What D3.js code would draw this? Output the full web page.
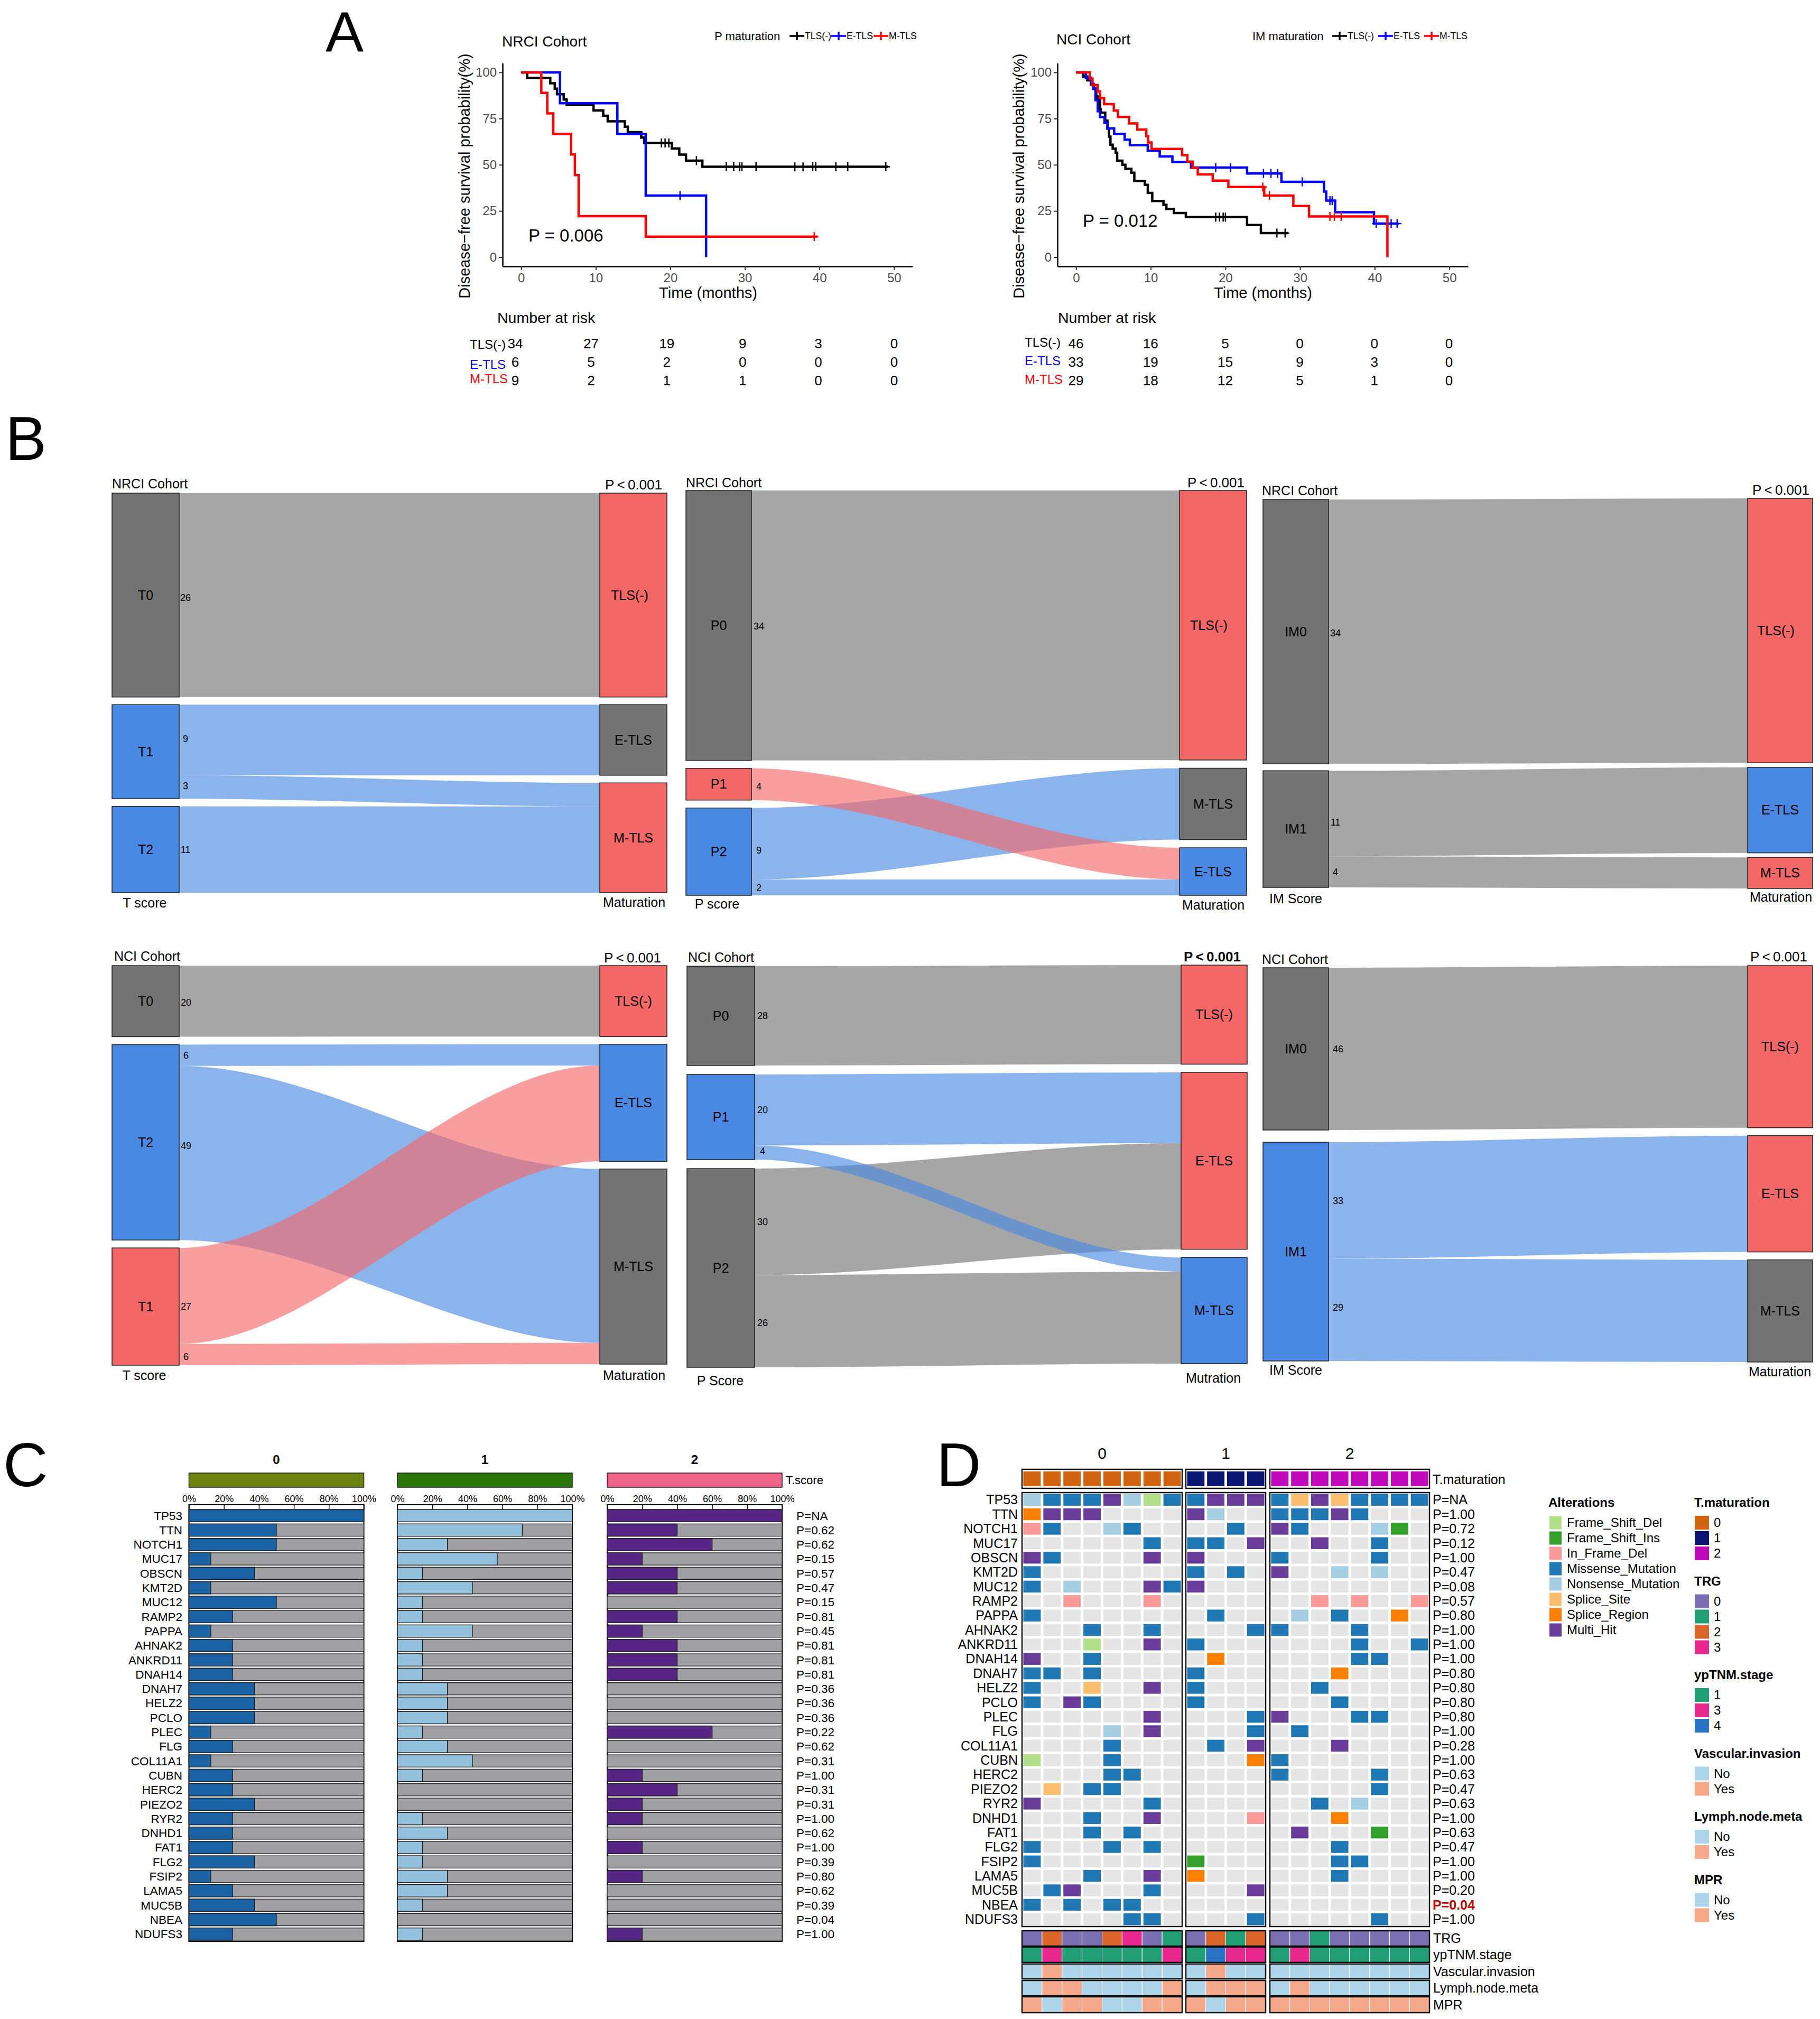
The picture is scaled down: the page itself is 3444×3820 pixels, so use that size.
<!DOCTYPE html>
<html>
<head>
<meta charset="utf-8">
<script src="https://cdn.jsdelivr.net/npm/d3@7"></script>
<style>
  body { margin: 0; background: #fff; }
  svg { display: block; }
</style>
</head>
<body>
<div id="chart"></div>
<script>
// ---------- panel A: survival curves, [months, survival %] ----------
const nrciNeg = [[0,100],[0.8,97],[3.9,94.1],[4.5,91.2],[4.8,88.2],[5.7,85.3],[6.1,82.4],[9.7,79.4],[11,76.5],[11.6,73.5],[13.9,70.6],[14.3,67.7],[16.1,64.7],[16.5,61.8],[20.2,58.8],[21.2,55.5],[22.1,52.2],[24.3,48.9],[49.2,48.9]];
const nrciE = [[0,100],[5.2,83.3],[12.9,66.7],[16.7,33.3],[24.8,0]];
const nrciM = [[0,100],[2.7,88.9],[3.5,77.8],[4.3,66.7],[6.7,55.6],[7.2,44.4],[7.7,22.2],[16.7,11.1],[39.7,11.1]];
const nrciNegCensor = [18.8,19.3,19.8,23.5,27.5,28.5,29.3,29.6,31.5,36.7,37.8,39.1,39.5,42.2,43.8,48.9];
const nrciECensor = [21.3];
const nrciMCensor = [39.3];

const nciNeg = [[0,100],[0.95,97.8],[1.5,95.7],[2,93.5],[2.4,91.3],[2.7,87],[2.9,85],[3.2,80],[3.3,78.2],[3.9,73.9],[4.2,69.6],[4.4,65.2],[4.6,60.9],[4.9,58.7],[5.3,56.5],[5.5,52.2],[6.2,50],[6.6,47.8],[7.4,45.7],[7.8,41.3],[9.2,39.1],[9.6,34.8],[10.2,30.4],[11.7,28.3],[12.1,26.1],[13.1,23.9],[14.7,21.7],[22.9,17.4],[24.75,13],[28.4,13]];
const nciE = [[0,100],[1.3,97],[2,94],[2.3,91],[2.6,85],[2.9,79],[3.2,75.8],[3.8,72.7],[4.2,69.7],[5.1,66.7],[6.5,63.6],[7.2,60.6],[9.6,57.6],[11.2,54.5],[12.9,51.5],[15.4,48.5],[22.9,45.3],[27.5,40.8],[33.2,35.5],[33.5,30.6],[34.7,24.3],[39.9,18.2],[43.2,18.2]];
const nciM = [[0,100],[1.85,96.6],[2.2,93.1],[2.9,89.7],[3.2,86.2],[3.75,82.8],[5.05,79.3],[5.6,75.9],[7.1,72.4],[8.2,69],[9.4,65.5],[9.65,62.1],[10.1,58.6],[14.2,55.2],[14.9,51.7],[15.6,48.3],[16.3,44.8],[18.3,41.4],[20.4,38],[25.2,33.3],[29.1,27.7],[31.2,22],[41.7,0]];
const nciNegCensor = [18.7,19.2,19.7,20,26.9,28];
const nciECensor = [18.7,20.7,25.1,26.1,27,30.3,34,34.3,40.2,42.2,43];
const nciMCensor = [25,25.9,34,34.6,35.5];

const timeTicks = [0,10,20,30,40,50];
const survTicks = [0,25,50,75,100];
const groupNames = ['TLS(-)','E-TLS','M-TLS'];
const nrciRisk = [[34,27,19,9,3,0],[6,5,2,0,0,0],[9,2,1,1,0,0]];
const nciRisk = [[46,16,5,0,0,0],[33,19,15,9,3,0],[29,18,12,5,1,0]];

// ---------- panel B: alluvial strata and flows ----------
const b1Left = ['T0','T1','T2'];
const b1Right = ['TLS(-)','E-TLS','M-TLS'];
const b1Flows = [['T0','TLS(-)',26],['T1','E-TLS',9],['T1','M-TLS',3],['T2','M-TLS',11]];
const b2Left = ['P0','P1','P2'];
const b2Right = ['TLS(-)','M-TLS','E-TLS'];
const b2Flows = [['P0','TLS(-)',34],['P1','E-TLS',4],['P2','M-TLS',9],['P2','E-TLS',2]];
const b3Left = ['IM0','IM1'];
const b3Right = ['TLS(-)','E-TLS','M-TLS'];
const b3Flows = [['IM0','TLS(-)',34],['IM1','E-TLS',11],['IM1','M-TLS',4]];
const b4Left = ['T0','T2','T1'];
const b4Right = ['TLS(-)','E-TLS','M-TLS'];
const b4Flows = [['T0','TLS(-)',20],['T2','E-TLS',6],['T2','M-TLS',49],['T1','E-TLS',27],['T1','M-TLS',6]];
const b5Left = ['P0','P1','P2'];
const b5Right = ['TLS(-)','E-TLS','M-TLS'];
const b5Flows = [['P0','TLS(-)',28],['P1','E-TLS',20],['P1','M-TLS',4],['P2','E-TLS',30],['P2','M-TLS',26]];
const b6Left = ['IM0','IM1'];
const b6Right = ['TLS(-)','E-TLS','M-TLS'];
const b6Flows = [['IM0','TLS(-)',46],['IM1','E-TLS',33],['IM1','M-TLS',29]];

// ---------- panel C: mutation frequency per group ----------
const genes = ['TP53','TTN','NOTCH1','MUC17','OBSCN','KMT2D','MUC12','RAMP2','PAPPA','AHNAK2','ANKRD11','DNAH14','DNAH7','HELZ2','PCLO','PLEC','FLG','COL11A1','CUBN','HERC2','PIEZO2','RYR2','DNHD1','FAT1','FLG2','FSIP2','LAMA5','MUC5B','NBEA','NDUFS3'];
const freq0 = [100,50,50,12.5,37.5,12.5,50,25,12.5,25,25,25,37.5,37.5,37.5,12.5,25,12.5,25,25,37.5,25,25,25,37.5,12.5,25,37.5,50,25];
const freq1 = [100,71.4,28.6,57.1,14.3,42.9,14.3,14.3,42.9,14.3,14.3,14.3,28.6,28.6,28.6,14.3,28.6,42.9,14.3,0,0,14.3,28.6,14.3,14.3,28.6,28.6,14.3,0,14.3];
const freq2 = [100,40,60,20,40,40,0,40,20,40,40,40,0,0,0,60,0,0,20,40,20,20,0,20,0,20,0,0,0,20];
const pFreq = ['P=NA','P=0.62','P=0.62','P=0.15','P=0.57','P=0.47','P=0.15','P=0.81','P=0.45','P=0.81','P=0.81','P=0.81','P=0.36','P=0.36','P=0.36','P=0.22','P=0.62','P=0.31','P=1.00','P=0.31','P=0.31','P=1.00','P=0.62','P=1.00','P=0.39','P=0.80','P=0.62','P=0.39','P=0.04','P=1.00'];
const pctTicks = [0,20,40,60,80,100];

// ---------- panel D: oncoprint, 8 + 4 + 8 samples per gene ----------
const onco = [
  'NMMMHNFMMHHHMSHSMMMM',
  'RHHH....HN..MMMHM...',
  'DM..NM....M.HM...NI.',
  '......M.MM.H..H..M..',
  'HM....H.H...M....M..',
  'M.......M.M.H..N.N..',
  'M.N...HMH...........',
  '..D...D.......D.D..D',
  'M........M...N.M..R.',
  '...M..M....MM...M...',
  '...F..H.M.......M..M',
  'H..M.....R......MM..',
  'MM.M....M......R....',
  'M..S..H.M.....M.....',
  'M.HM....M......M....',
  '......H....MH...MM..',
  '....N.H....M.M......',
  '....M....M.H...H....',
  'F...M......RM.......',
  '....MM......M....M..',
  '.S.MM............M..',
  'H.....M.......M.N...',
  '...M..H....D...R....',
  '...M.M.......H...I..',
  'M...M.M........M....',
  'M.......I......MM...',
  '...M..H.R......M....',
  '.MH...M....H........',
  'M.M.MM..............',
  '.....MM....M.....M..'
];
const pOnco = ['P=NA','P=1.00','P=0.72','P=0.12','P=1.00','P=0.47','P=0.08','P=0.57','P=0.80','P=1.00','P=1.00','P=1.00','P=0.80','P=0.80','P=0.80','P=0.80','P=1.00','P=0.28','P=1.00','P=0.63','P=0.47','P=0.63','P=1.00','P=0.63','P=0.47','P=1.00','P=1.00','P=0.20','P=0.04','P=1.00'];
const tMaturation = '00000000111122222222';
const trg =         '02002301021200100000';
const ypStage =     '13111113143313111111';
const vascular =    'NYNNNNNNNYNNNNNNNNNN';
const lymph =       'NYYNNNNYNYYYNYNNNNNN';
const mpr =         'YNYYNNYYYNYYYYYYYYYY';
const alterNames = ['Frame_Shift_Del','Frame_Shift_Ins','In_Frame_Del','Missense_Mutation','Nonsense_Mutation','Splice_Site','Splice_Region','Multi_Hit'];
const alterCodes = ['F','I','D','M','N','S','R','H'];

// ---------- styles ----------
const FONT = '"Liberation Sans", Arial, sans-serif';
const GRAY = '#737373', BLUE = '#4a89e3', RED = '#f46767';
const alterColors = ['#b2df8a','#33a02c','#fb9a99','#1f78b4','#a6cee3','#fdbf6f','#ff7f00','#6a3d9a'];
const alterColor = d3.scaleOrdinal().domain(alterCodes).range(alterColors);
const matColor = { '0':'#d06410', '1':'#0b1672', '2':'#c008bb' };
const trgColor = { '0':'#7a70b2', '1':'#229e74', '2':'#d9652a', '3':'#e8288f' };
const stageColor = { '1':'#229e74', '3':'#e8288f', '4':'#2a72c4' };
const yesNoColor = { 'N':'#aed4ea', 'Y':'#f5a98a' };

const svg = d3.select('#chart').append('svg')
  .attr('width', 3444).attr('height', 3820)
  .attr('font-family', FONT);

function label(g, x, y, s, size, opt = {}) {
  return g.append('text')
    .attr('x', x).attr('y', y).attr('dy', '.35em')
    .attr('font-size', size)
    .attr('text-anchor', opt.anchor || 'start')
    .attr('fill', opt.fill || '#000')
    .attr('font-weight', opt.weight || 'normal')
    .text(s);
}

label(svg, 616, 60, 'A', 108);
label(svg, 10, 829, 'B', 117);
label(svg, 6, 2771, 'C', 117);
label(svg, 1772, 2771, 'D', 117);

// ---------- A ----------
function survivalPanel(cfg) {
  const g = svg.append('g');
  const x = d3.scaleLinear().domain([-2.5, 52.5]).range(cfg.xRange);
  const y = d3.scaleLinear().domain([-5, 105]).range([504, 119.5]);

  const xAxis = g.append('g').attr('transform', 'translate(0,504)')
    .call(d3.axisBottom(x).tickValues(timeTicks).tickSize(7).tickPadding(6).tickSizeOuter(0));
  const yAxis = g.append('g').attr('transform', `translate(${cfg.xRange[0]},0)`)
    .call(d3.axisLeft(y).tickValues(survTicks).tickSize(7).tickPadding(4).tickSizeOuter(0));
  [xAxis, yAxis].forEach(a => {
    a.attr('font-family', FONT).attr('font-size', 24);
    a.select('.domain').attr('stroke', '#000').attr('stroke-width', 2.5);
    a.selectAll('.tick line').attr('stroke', '#333').attr('stroke-width', 2);
    a.selectAll('.tick text').attr('fill', '#4d4d4d');
  });

  const line = d3.line().x(d => x(d[0])).y(d => y(d[1])).curve(d3.curveStepAfter);
  const colors = ['#000', '#00f', '#f00'];
  cfg.curves.forEach((steps, i) => {
    g.append('path').datum(steps)
      .attr('d', line).attr('fill', 'none')
      .attr('stroke', colors[i]).attr('stroke-width', 4.5);
    const surv = t => steps[d3.bisector(d => d[0]).right(steps, t) - 1][1];
    g.append('g').selectAll('path')
      .data(cfg.censors[i])
      .enter().append('path')
      .attr('d', t => `M${x(t) - 8},${y(surv(t))}H${x(t) + 8}M${x(t)},${y(surv(t)) - 8.5}V${y(surv(t)) + 8.5}`)
      .attr('stroke', colors[i]).attr('stroke-width', 2.5).attr('fill', 'none');
  });

  label(g, cfg.titleX, cfg.titleY, cfg.title, 28);
  label(g, cfg.pX, cfg.pY, cfg.p, 33);
  label(g, cfg.axisTitleX, 554, 'Time (months)', 29, { anchor: 'middle' });
  g.append('text')
    .attr('transform', `translate(${cfg.yTitleX},333) rotate(-90)`)
    .attr('dy', '.35em').attr('text-anchor', 'middle').attr('font-size', 29)
    .text('Disease\u2212free survival probability(%)');

  // legend
  label(g, cfg.legendX, 68, cfg.legendTitle, 22);
  groupNames.forEach((n, i) => {
    const kx = cfg.legendKeys[i];
    g.append('path')
      .attr('d', `M${kx},68H${kx + cfg.keyW}M${kx + cfg.keyW / 2},60V76`)
      .attr('stroke', colors[i]).attr('stroke-width', 3.5).attr('fill', 'none');
    label(g, kx + cfg.keyW + 1, 68, n, 17.6);
  });

  // number at risk
  label(g, cfg.riskTitleX, 601, 'Number at risk', 28.5);
  const tx = d3.scaleLinear().domain([0, 50]).range(cfg.tableRange);
  const ty = d3.scalePoint().domain(groupNames).range([650, 720]);
  groupNames.forEach((n, i) => {
    label(g, cfg.riskLabelX, ty(n) + cfg.riskLabelDy[i], n, 24, { fill: colors[i] });
    timeTicks.forEach((t, j) => {
      label(g, tx(t), ty(n), cfg.risk[i][j], 26, { anchor: 'middle' });
    });
  });
}

survivalPanel({
  xRange: [951, 1727], curves: [nrciNeg, nrciE, nrciM], censors: [nrciNegCensor, nrciECensor, nrciMCensor],
  title: 'NRCI Cohort', titleX: 950, titleY: 78, p: 'P = 0.006', pX: 1000, pY: 445,
  axisTitleX: 1340, yTitleX: 879,
  legendTitle: 'P maturation', legendX: 1352, legendKeys: [1494, 1573, 1653], keyW: 28,
  riskTitleX: 941, tableRange: [975, 1692], riskLabelX: 889, riskLabelDy: [2, 5, -3], risk: nrciRisk
});
survivalPanel({
  xRange: [2001, 2778], curves: [nciNeg, nciE, nciM], censors: [nciNegCensor, nciECensor, nciMCensor],
  title: 'NCI Cohort', titleX: 1999, titleY: 74, p: 'P = 0.012', pX: 2049, pY: 417,
  axisTitleX: 2390, yTitleX: 1928,
  legendTitle: 'IM maturation', legendX: 2370, legendKeys: [2521, 2608, 2695], keyW: 28,
  riskTitleX: 2002, tableRange: [2036, 2742], riskLabelX: 1939, riskLabelDy: [-2, -2, -2], risk: nciRisk
});

// ---------- B ----------
function alluvialPanel(cfg) {
  const g = svg.append('g');
  const total = d3.sum(cfg.flows, f => f[2]);
  const [x0, x1, x2, x3] = cfg.x;
  const scaleL = d3.scaleLinear().domain([0, total])
    .range([0, cfg.botL - cfg.topL - cfg.gapL * (cfg.left.length - 1)]);
  const scaleR = d3.scaleLinear().domain([0, total])
    .range([0, cfg.botR - cfg.topR - cfg.gapR * (cfg.right.length - 1)]);

  const stack = (names, side, top, gap, scale) => {
    const nodes = {};
    let y = top;
    names.forEach(n => {
      const v = d3.sum(cfg.flows.filter(f => f[side] === n), f => f[2]);
      nodes[n] = { y0: y, y1: y + scale(v), next: y };
      y += scale(v) + gap;
    });
    return nodes;
  };
  const leftNodes = stack(cfg.left, 0, cfg.topL, cfg.gapL, scaleL);
  const rightNodes = stack(cfg.right, 1, cfg.topR, cfg.gapR, scaleR);
  const fillL = name => cfg.leftFill[cfg.left.indexOf(name)];
  const rank = { [GRAY]: 0, [BLUE]: 1, [RED]: 2 };

  const ribbons = cfg.flows.map(f => {
    const a = leftNodes[f[0]], b = rightNodes[f[1]];
    const r = { source: f[0], value: f[2], a0: a.next, a1: a.next + scaleL(f[2]), b0: b.next, b1: b.next + scaleR(f[2]) };
    a.next = r.a1; b.next = r.b1;
    return r;
  });

  // control points at a third of the way give the reference's long straight middle
  const c1 = x1 + (x2 - x1) / 3, c2 = x1 + (x2 - x1) * 2 / 3;
  g.append('g').selectAll('path')
    .data(ribbons.slice().sort((p, q) => rank[fillL(p.source)] - rank[fillL(q.source)]))
    .enter().append('path')
    .attr('d', r => {
      const p = d3.path();
      p.moveTo(x1, r.a0);
      p.bezierCurveTo(c1, r.a0, c2, r.b0, x2, r.b0);
      p.lineTo(x2, r.b1);
      p.bezierCurveTo(c2, r.b1, c1, r.a1, x1, r.a1);
      p.closePath();
      return p.toString();
    })
    .attr('fill', r => fillL(r.source))
    .attr('fill-opacity', 0.64);

  const drawNodes = (names, nodes, fills, ax, bx) => {
    names.forEach((n, i) => {
      g.append('rect')
        .attr('x', ax).attr('y', nodes[n].y0)
        .attr('width', bx - ax).attr('height', nodes[n].y1 - nodes[n].y0)
        .attr('fill', fills[i]).attr('stroke', '#222').attr('stroke-width', 1.5);
      const dx = n === 'TLS(-)' ? (cfg.tlsDx || 0) : 0;
      label(g, (ax + bx) / 2 + dx, (nodes[n].y0 + nodes[n].y1) / 2, n, 25, { anchor: 'middle' });
    });
  };
  drawNodes(cfg.left, leftNodes, cfg.leftFill, x0, x1);
  drawNodes(cfg.right, rightNodes, cfg.rightFill, x2, x3);

  ribbons.forEach((r, i) => {
    label(g, x1 + cfg.countDx, (r.a0 + r.a1) / 2 + cfg.countDy[i], r.value, 18, { anchor: 'middle' });
  });

  label(g, cfg.cohort[1], cfg.cohort[2], cfg.cohort[0], 25);
  label(g, cfg.pv[0], cfg.pv[1], 'P\u2009<\u20090.001', 26, { anchor: 'middle', weight: cfg.pv[2] ? 'bold' : 'normal' });
  label(g, cfg.leftCap[1], cfg.leftCap[2], cfg.leftCap[0], 25, { anchor: 'middle' });
  label(g, cfg.rightCap[1], cfg.rightCap[2], cfg.rightCap[0], 25, { anchor: 'middle' });
}

alluvialPanel({ left: b1Left, right: b1Right, flows: b1Flows, x: [212, 339, 1135, 1262],
  topL: 933, botL: 1689, gapL: 14.5, topR: 933, botR: 1689, gapR: 14.5, countDx: 12, countDy: [5, -2, -2, 0], tlsDx: -7,
  leftFill: [GRAY, BLUE, BLUE], rightFill: [RED, GRAY, RED],
  cohort: ['NRCI Cohort', 212, 915], pv: [1199, 917], leftCap: ['T score', 274, 1708], rightCap: ['Maturation', 1200, 1707] });
alluvialPanel({ left: b2Left, right: b2Right, flows: b2Flows, x: [1298, 1422, 2232, 2359],
  topL: 928, botL: 1694, gapL: 15, topR: 928, botR: 1694, gapR: 15.5, countDx: 14, countDy: [1, 4, 12, 1], tlsDx: -8,
  leftFill: [GRAY, RED, BLUE], rightFill: [RED, GRAY, BLUE],
  cohort: ['NRCI Cohort', 1298, 913], pv: [2301, 913], leftCap: ['P score', 1357, 1710], rightCap: ['Maturation', 2296, 1712] });
alluvialPanel({ left: b3Left, right: b3Right, flows: b3Flows, x: [2390, 2514, 3307, 3430],
  topL: 945, botL: 1679, gapL: 13, topR: 943, botR: 1681, gapR: 8.5, countDx: 13, countDy: [3, 16, 0], tlsDx: -8,
  leftFill: [GRAY, GRAY], rightFill: [RED, BLUE, RED],
  cohort: ['NRCI Cohort', 2388, 928], pv: [3370, 927], leftCap: ['IM Score', 2452, 1700], rightCap: ['Maturation', 3370, 1697] });
alluvialPanel({ left: b4Left, right: b4Right, flows: b4Flows, x: [212, 339, 1135, 1262],
  topL: 1827, botL: 2583, gapL: 15, topR: 1827, botR: 2581, gapR: 14.5, countDx: 13, countDy: [2, 0, -14, 20, 4],
  leftFill: [GRAY, BLUE, RED], rightFill: [RED, BLUE, GRAY],
  cohort: ['NCI Cohort', 216, 1809], pv: [1197, 1812], leftCap: ['T score', 273, 2602], rightCap: ['Maturation', 1200, 2602] });
alluvialPanel({ left: b5Left, right: b5Right, flows: b5Flows, x: [1300, 1428, 2235, 2360],
  topL: 1828, botL: 2587, gapL: 17, topR: 1826, botR: 2580, gapR: 15.5, countDx: 15, countDy: [0, 0, -3, 0, 3],
  leftFill: [GRAY, BLUE, GRAY], rightFill: [RED, RED, BLUE],
  cohort: ['NCI Cohort', 1302, 1811], pv: [2294, 1810, true], leftCap: ['P Score', 1363, 2612], rightCap: ['Mutration', 2296, 2607] });
alluvialPanel({ left: b6Left, right: b6Right, flows: b6Flows, x: [2390, 2514, 3307, 3430],
  topL: 1831, botL: 2575, gapL: 23, topR: 1827, botR: 2577, gapR: 15, countDx: 18, countDy: [0, 0, -4],
  leftFill: [GRAY, BLUE], rightFill: [RED, RED, GRAY],
  cohort: ['NCI Cohort', 2388, 1815], pv: [3366, 1810], leftCap: ['IM Score', 2452, 2592], rightCap: ['Maturation', 3368, 2595] });

// ---------- C ----------
const gC = svg.append('g');
const rowC = d3.scaleBand().domain(genes).range([2854, 3673]).paddingInner(0.15).paddingOuter(0.075);
const groupsC = [
  { name: '0', freq: freq0, range: [357.5, 688.5], annot: '#6b8510', fill: '#1b62a5' },
  { name: '1', freq: freq1, range: [752, 1083], annot: '#2b7509', fill: '#94c2de' },
  { name: '2', freq: freq2, range: [1149, 1480], annot: '#f06488', fill: '#562585' }
];
groupsC.forEach(grp => {
  const x = d3.scaleLinear().domain([0, 100]).range(grp.range);
  label(gC, (grp.range[0] + grp.range[1]) / 2, 2762, grp.name, 24, { anchor: 'middle', weight: 'bold' });
  gC.append('rect')
    .attr('x', grp.range[0]).attr('y', 2787)
    .attr('width', grp.range[1] - grp.range[0]).attr('height', 27)
    .attr('fill', grp.annot).attr('stroke', '#222').attr('stroke-width', 1.5);
  gC.append('rect')
    .attr('x', grp.range[0]).attr('y', 2847)
    .attr('width', grp.range[1] - grp.range[0]).attr('height', 826)
    .attr('fill', '#fff').attr('stroke', '#000').attr('stroke-width', 2);

  const axis = gC.append('g').attr('transform', 'translate(0,2856)')
    .call(d3.axisTop(x).tickValues(pctTicks).tickFormat(d => d + '%').tickSize(9).tickPadding(5));
  axis.attr('font-family', FONT).attr('font-size', 18);
  axis.select('.domain').remove();
  axis.selectAll('.tick line').attr('stroke', '#000').attr('stroke-width', 1.5);
  axis.selectAll('.tick text').attr('fill', '#000');

  // grey remainder first, mutated share on top
  gC.append('g').selectAll('rect')
    .data(genes)
    .enter().append('rect')
    .attr('x', x(0)).attr('y', d => rowC(d))
    .attr('width', x(100) - x(0)).attr('height', rowC.bandwidth())
    .attr('fill', '#a0a0a4').attr('stroke', '#1a1a1a').attr('stroke-width', 1.3);
  gC.append('g').selectAll('rect')
    .data(genes.map((g, i) => ({ g, v: grp.freq[i] })).filter(d => d.v > 0))
    .enter().append('rect')
    .attr('x', x(0)).attr('y', d => rowC(d.g))
    .attr('width', d => x(d.v) - x(0)).attr('height', rowC.bandwidth())
    .attr('fill', grp.fill).attr('stroke', '#1a1a1a').attr('stroke-width', 1.3);
});
label(gC, 1487, 2800, 'T.score', 22);
genes.forEach((g, i) => {
  label(gC, 345, rowC(g) + rowC.bandwidth() / 2, g, 22.5, { anchor: 'end' });
  label(gC, 1507, rowC(g) + rowC.bandwidth() / 2, pFreq[i], 22.5);
});

// ---------- D ----------
const gD = svg.append('g');
const rowD = d3.scaleBand().domain(genes).range([2824, 3645]).paddingInner(0.18).paddingOuter(0.09);
const groupsD = [
  { name: '0', from: 0, to: 8, range: [1934, 2237] },
  { name: '1', from: 8, to: 12, range: [2244, 2395] },
  { name: '2', from: 12, to: 20, range: [2403, 2705] }
];
const annotRows = [
  { name: 'TRG', values: trg, colors: trgColor, y: [3653, 3682] },
  { name: 'ypTNM.stage', values: ypStage, colors: stageColor, y: [3684, 3713] },
  { name: 'Vascular.invasion', values: vascular, colors: yesNoColor, y: [3716, 3744] },
  { name: 'Lymph.node.meta', values: lymph, colors: yesNoColor, y: [3747, 3776] },
  { name: 'MPR', values: mpr, colors: yesNoColor, y: [3778, 3808] }
];
groupsD.forEach(grp => {
  const idx = d3.range(grp.from, grp.to);
  const col = d3.scaleBand().domain(idx).range(grp.range).paddingInner(0.13).paddingOuter(0.065);
  const w = grp.range[1] - grp.range[0];
  const box = (y0, y1) => gD.append('rect')
    .attr('x', grp.range[0]).attr('y', y0).attr('width', w).attr('height', y1 - y0)
    .attr('fill', 'none').attr('stroke', '#111').attr('stroke-width', 2.5);

  label(gD, (grp.range[0] + grp.range[1]) / 2, 2749, grp.name, 30, { anchor: 'middle' });

  // top annotation
  gD.append('g').selectAll('rect').data(idx).enter().append('rect')
    .attr('x', i => col(i)).attr('y', 2784)
    .attr('width', col.bandwidth()).attr('height', 28)
    .attr('fill', i => matColor[tMaturation[i]]);
  box(2780, 2816);

  // mutation cells
  const cells = [];
  genes.forEach((g, r) => idx.forEach(i => cells.push({ g, i, code: onco[r][i] })));
  gD.append('g').selectAll('rect').data(cells).enter().append('rect')
    .attr('x', d => col(d.i)).attr('y', d => rowD(d.g))
    .attr('width', col.bandwidth()).attr('height', rowD.bandwidth())
    .attr('fill', d => d.code === '.' ? '#e5e5e5' : alterColor(d.code));
  box(2824, 3645);

  // bottom annotations
  const colFlat = d3.scaleBand().domain(idx).range(grp.range);
  annotRows.forEach(row => {
    gD.append('g').selectAll('rect').data(idx).enter().append('rect')
      .attr('x', i => colFlat(i)).attr('y', row.y[0])
      .attr('width', colFlat.bandwidth()).attr('height', row.y[1] - row.y[0])
      .attr('fill', i => row.colors[row.values[i]])
      .attr('stroke', '#fff').attr('stroke-width', 1);
    box(row.y[0], row.y[1]);
  });
});
label(gD, 2711, 2799, 'T.maturation', 25);
annotRows.forEach(row => label(gD, 2712, (row.y[0] + row.y[1]) / 2, row.name, 25));
genes.forEach((g, i) => {
  const yc = rowD(g) + rowD.bandwidth() / 2;
  label(gD, 1926, yc, g, 25, { anchor: 'end' });
  const hit = pOnco[i] === 'P=0.04';
  label(gD, 2711, yc, pOnco[i], 25, { fill: hit ? '#c00000' : '#000', weight: hit ? 'bold' : 'normal' });
});

// legends
label(gD, 2930, 2843, 'Alterations', 24, { weight: 'bold' });
alterNames.forEach((n, i) => {
  const y = 2881 + i * 29;
  gD.append('rect').attr('x', 2932).attr('y', y - 12.5).attr('width', 23).attr('height', 25).attr('fill', alterColors[i]);
  label(gD, 2965, y, n, 24);
});
const legendSections = [
  { title: 'T.maturation', keys: ['0','1','2'], colors: matColor },
  { title: 'TRG', keys: ['0','1','2','3'], colors: trgColor },
  { title: 'ypTNM.stage', keys: ['1','3','4'], colors: stageColor },
  { title: 'Vascular.invasion', keys: ['N','Y'], names: ['No','Yes'], colors: yesNoColor },
  { title: 'Lymph.node.meta', keys: ['N','Y'], names: ['No','Yes'], colors: yesNoColor },
  { title: 'MPR', keys: ['N','Y'], names: ['No','Yes'], colors: yesNoColor }
];
let legendY = 2843;
legendSections.forEach(sec => {
  label(gD, 3206, legendY, sec.title, 24, { weight: 'bold' });
  let y = legendY + 38;
  sec.keys.forEach((k, i) => {
    gD.append('rect').attr('x', 3207).attr('y', y - 13).attr('width', 27).attr('height', 26).attr('fill', sec.colors[k]);
    label(gD, 3243, y, sec.names ? sec.names[i] : k, 24);
    y += 29;
  });
  legendY = y - 29 + 52.5;
});
</script>
</body>
</html>
